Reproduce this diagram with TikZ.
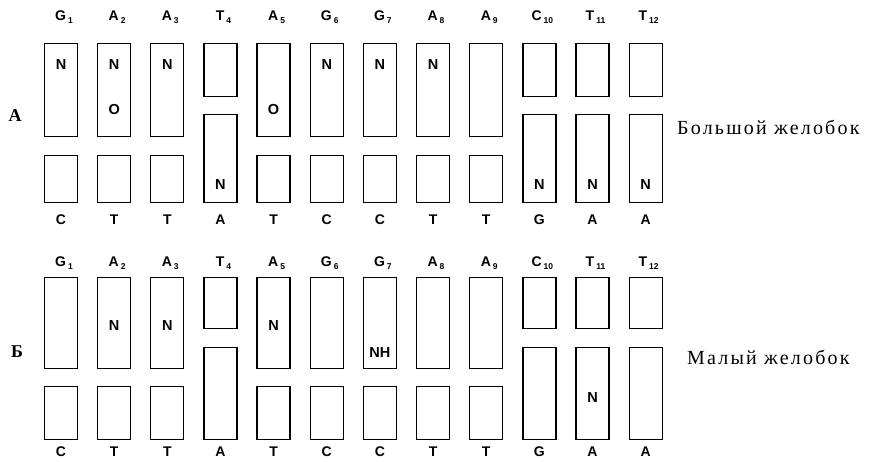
\documentclass[tikz,border=0pt]{standalone}
\usepackage{fontspec}
\setmainfont{Liberation Serif}
\newfontfamily\basefont{Liberation Sans}

\tikzset{
  strand/.style={draw, line width=1.3pt, minimum width=33pt, inner sep=0pt, anchor=north},
  atom/.style={font=\basefont\bfseries\fontsize{14.5}{14.5}\selectfont, inner sep=0pt},
  base/.style={font=\basefont\bfseries\fontsize{14}{14}\selectfont, inner sep=0pt},
  panel/.style={font=\bfseries\fontsize{18}{18}\selectfont, inner sep=0pt},
  groove/.style={font=\fontsize{20}{20}\selectfont\addfontfeature{LetterSpace=11}, inner sep=0pt, anchor=west}
}
\newcommand{\nuc}[2]{#1\raisebox{-0.45ex}{\kern2pt\fontsize{8.5}{8.5}\selectfont#2}}

\begin{document}
\begin{tikzpicture}[x=1pt,y=-1pt]
\useasboundingbox (0,0) rectangle (871,461);
\foreach \i/\up/\lo/\s in {1/G/C/0,2/A/T/0,3/A/T/0,4/T/A/1,5/A/T/0,6/G/C/0,
                           7/G/C/0,8/A/T/0,9/A/T/0,10/C/G/1,11/T/A/1,12/T/A/1}{
  \pgfmathsetmacro{\xx}{61+53.15*(\i-1)}
  \ifnum\s=0
    \node[strand, minimum height=93pt] (At\i) at (\xx,43) {};
    \node[strand, minimum height=47pt] (Ab\i) at (\xx,155) {};
    \node[strand, minimum height=91pt] (Bt\i) at (\xx,277) {};
    \node[strand, minimum height=53pt] (Bb\i) at (\xx,386) {};
  \else
    \node[strand, minimum height=53pt] (At\i) at (\xx,43) {};
    \node[strand, minimum height=88pt] (Ab\i) at (\xx,114) {};
    \node[strand, minimum height=51pt] (Bt\i) at (\xx,277) {};
    \node[strand, minimum height=92pt] (Bb\i) at (\xx,347) {};
  \fi
  \node[base] (Aup\i) at (\xx+3,17) {\nuc{\up}{\i}};
  \node[base] (Alo\i) at (\xx,220) {\lo};
  \node[base] (Bup\i) at (\xx+3,263) {\nuc{\up}{\i}};
  \node[base] (Blo\i) at (\xx,452) {\lo};
}
\foreach \i in {1,2,3,6,7,8}
  \node[atom] (AN\i) at (At\i.north |- 0,65) {N};
\foreach \i in {2,5}
  \node[atom] (AO\i) at (At\i.north |- 0,110) {O};
\foreach \i in {4,10,11,12}
  \node[atom] (AM\i) at (Ab\i.north |- 0,185) {N};
\foreach \i in {2,3,5}
  \node[atom] (BN\i) at (Bt\i.north |- 0,326) {N};
\node[atom] (BNH7) at (Bt7.north |- 0,353) {NH};
\node[atom] (BM11) at (Bb11.north |- 0,398) {N};

\node[panel] (pA) at (15,116) {А};
\node[panel] (pB) at (17,352) {Б};
\node[groove] (gA) at (677,127) {Большой желобок};
\node[groove] (gB) at (687,357) {Малый желобок};
\end{tikzpicture}
\end{document}
